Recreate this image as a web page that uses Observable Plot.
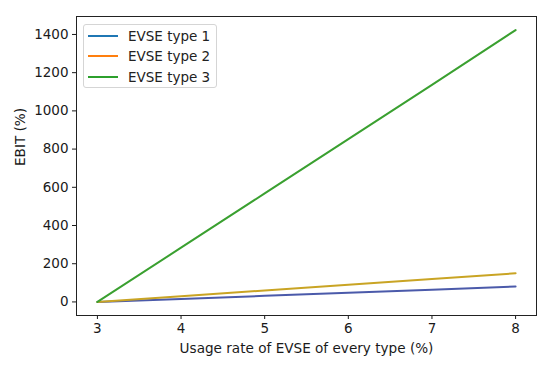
<!DOCTYPE html>
<html><head><meta charset="utf-8">
<script src="https://cdn.jsdelivr.net/npm/d3@7"></script>
<script src="https://cdn.jsdelivr.net/npm/@observablehq/plot@0.6"></script>
<style>
body{margin:0;background:#fff;font-family:"DejaVu Sans",sans-serif;}
#wrap{position:relative;width:550px;height:367px;}
#legend{position:absolute;left:83px;top:24px;width:132px;height:62px;border:1px solid #d5d5d5;border-radius:3px;background:rgba(255,255,255,0.8);font-size:13.5px;color:#222;}
#legend .row{position:absolute;left:4px;height:20px;display:flex;align-items:center;}
#legend .sw{width:30px;height:2px;margin-right:10px;}
</style></head><body>
<div id="wrap"><div id="legend"></div></div>
<script>
const usage = [3, 4, 5, 6, 7, 8];
const type1 = [0, 16, 32, 48, 64, 81];
const type2 = [0, 30, 60, 90, 120, 150];
const type3 = [0, 284, 568, 852, 1136, 1423];
const seriesNames = ["EVSE type 1", "EVSE type 2", "EVSE type 3"];
const legendColors = ["#1f77b4", "#ff7f0e", "#2ca02c"];
const lineColors = ["#4b5aaa", "#c9a424", "#3aa030"];
const xTicks = [3, 4, 5, 6, 7, 8];
const yTicks = [0, 200, 400, 600, 800, 1000, 1200, 1400];

const allSeries = [type1, type2, type3];
const data = [];
allSeries.forEach((vals, i) => vals.forEach((v, j) => data.push({x: usage[j], y: v, s: seriesNames[i]})));

const chart = Plot.plot({
  width: 550, height: 367,
  marginLeft: 76, marginRight: 14, marginTop: 16, marginBottom: 52,
  style: {fontFamily: "DejaVu Sans, sans-serif", fontSize: "13.5px", color: "#1a1a1a", background: "#fff"},
  x: {domain: [2.75, 8.25]},
  y: {domain: [-71, 1494]},
  color: {domain: seriesNames, range: lineColors},
  marks: [
    Plot.axisX({ticks: xTicks, tickFormat: d => String(d), tickSize: 4, tickPadding: 4, fontSize: 13.5, label: null}),
    Plot.axisY({ticks: yTicks, tickFormat: d => String(d), tickSize: 4, tickPadding: 4, fontSize: 13.5, label: null}),
    Plot.text(["Usage rate of EVSE of every type (%)"], {frameAnchor: "bottom", dy: 37, fontSize: 13.6, fill: "#1a1a1a"}),
    Plot.text(["EBIT (%)"], {frameAnchor: "left", dx: -56, rotate: -90, fontSize: 13.6, fill: "#1a1a1a"}),
    Plot.line(data, {x: "x", y: "y", stroke: "s", strokeWidth: 2}),
    Plot.frame({stroke: "#222", strokeWidth: 1})
  ]
});
document.getElementById("wrap").prepend(chart);
const lg = document.getElementById("legend");
seriesNames.forEach((n, i) => {
  const r = document.createElement("div");
  r.className = "row"; r.style.top = (1 + i * 20.3) + "px";
  r.innerHTML = `<span class="sw" style="background:${legendColors[i]}"></span><span>${n}</span>`;
  lg.appendChild(r);
});
</script></body></html>
